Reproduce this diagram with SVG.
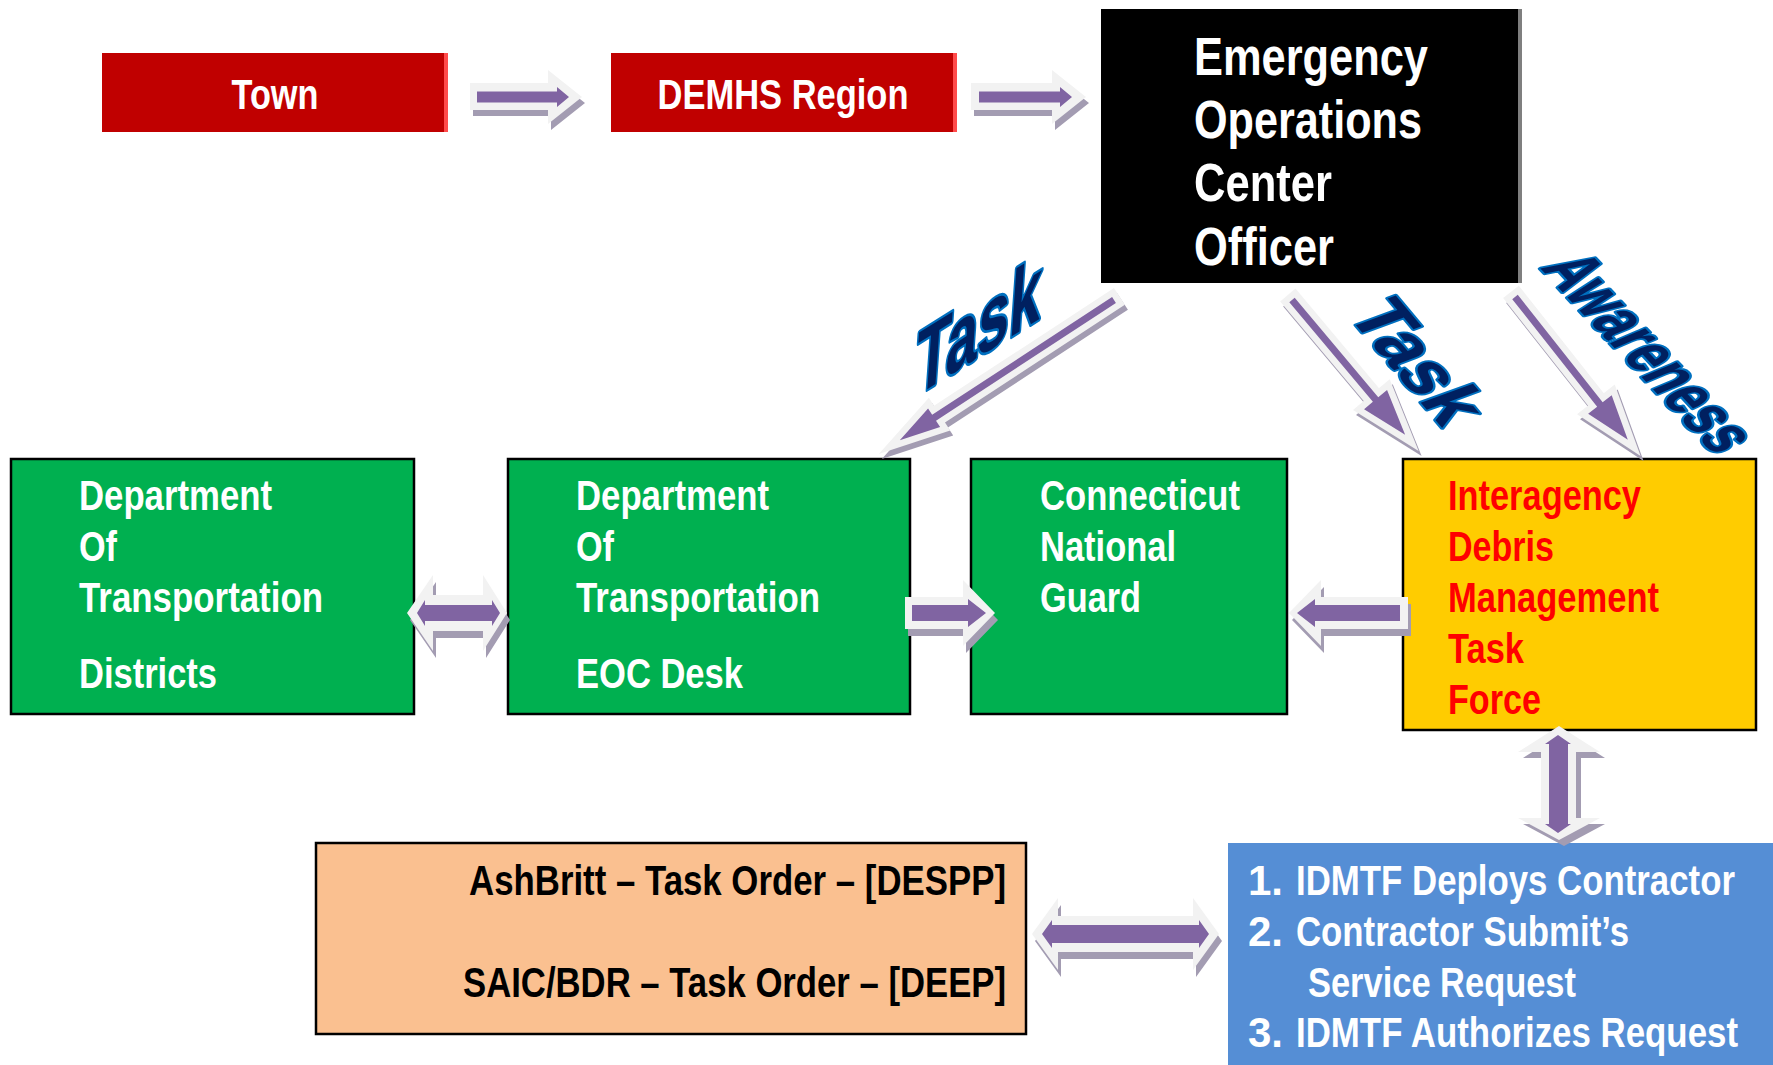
<svg xmlns="http://www.w3.org/2000/svg" width="1773" height="1065" viewBox="0 0 1773 1065">
<defs>
<style>
.t{font-family:"Liberation Sans Narrow","Liberation Sans",Arial,sans-serif;font-weight:bold;}
.w{fill:#fff}
.r{fill:#FF0000}
.k{fill:#000}
.f42{font-size:42px}
.f53{font-size:53px}
.bx{stroke:#000;stroke-width:2.5}
.sh{fill:#A39CB2}
.ol{fill:#F2F2F2}
.in{fill:#8064A2}
.dsh{fill:#A39CB2;stroke:#A39CB2;stroke-width:13;stroke-linejoin:miter;stroke-miterlimit:10}
.dol{fill:#F2F2F2;stroke:#F2F2F2;stroke-width:13;stroke-linejoin:miter;stroke-miterlimit:10}
.lab{font-family:"Liberation Sans",Arial,sans-serif;font-weight:bold;fill:#002060;stroke:#0070C0;stroke-width:3.5;stroke-linejoin:round;paint-order:stroke}
</style>
</defs>
<rect width="1773" height="1065" fill="#fff"/>
<g id="nodes">
<g id="town">
<rect x="102" y="53" width="346" height="79" fill="#C00000"/>
<rect x="444" y="53" width="4" height="79" fill="#FF4B4B"/>
<text class="t w f42" x="275" y="109" text-anchor="middle" textLength="87" lengthAdjust="spacingAndGlyphs">Town</text>
</g>
<g id="demhs">
<rect x="611" y="53" width="346" height="79" fill="#C00000"/>
<rect x="953" y="53" width="4" height="79" fill="#FF4B4B"/>
<text class="t w f42" x="783" y="109" text-anchor="middle" textLength="251" lengthAdjust="spacingAndGlyphs">DEMHS Region</text>
</g>
<g id="eoc">
<rect x="1101" y="9" width="421" height="274" fill="#000"/>
<rect x="1518" y="9" width="4" height="274" fill="#7F7F7F"/>
<text class="t w f53" x="1194" y="75" textLength="234" lengthAdjust="spacingAndGlyphs">Emergency</text>
<text class="t w f53" x="1194" y="138" textLength="228" lengthAdjust="spacingAndGlyphs">Operations</text>
<text class="t w f53" x="1194" y="201" textLength="138" lengthAdjust="spacingAndGlyphs">Center</text>
<text class="t w f53" x="1194" y="265" textLength="140" lengthAdjust="spacingAndGlyphs">Officer</text>
</g>
<g id="dot-districts">
<rect class="bx" x="11" y="459" width="403" height="255" fill="#00B050"/>
<text class="t w f42" x="79" y="510" textLength="193" lengthAdjust="spacingAndGlyphs">Department</text>
<text class="t w f42" x="79" y="561" textLength="38" lengthAdjust="spacingAndGlyphs">Of</text>
<text class="t w f42" x="79" y="612" textLength="244" lengthAdjust="spacingAndGlyphs">Transportation</text>
<text class="t w f42" x="79" y="688" textLength="138" lengthAdjust="spacingAndGlyphs">Districts</text>
</g>
<g id="dot-eoc">
<rect class="bx" x="508" y="459" width="402" height="255" fill="#00B050"/>
<text class="t w f42" x="576" y="510" textLength="193" lengthAdjust="spacingAndGlyphs">Department</text>
<text class="t w f42" x="576" y="561" textLength="38" lengthAdjust="spacingAndGlyphs">Of</text>
<text class="t w f42" x="576" y="612" textLength="244" lengthAdjust="spacingAndGlyphs">Transportation</text>
<text class="t w f42" x="576" y="688" textLength="167" lengthAdjust="spacingAndGlyphs">EOC Desk</text>
</g>
<g id="cng">
<rect class="bx" x="971" y="459" width="316" height="255" fill="#00B050"/>
<text class="t w f42" x="1040" y="510" textLength="200" lengthAdjust="spacingAndGlyphs">Connecticut</text>
<text class="t w f42" x="1040" y="561" textLength="136" lengthAdjust="spacingAndGlyphs">National</text>
<text class="t w f42" x="1040" y="612" textLength="101" lengthAdjust="spacingAndGlyphs">Guard</text>
</g>
<g id="idmtf">
<rect class="bx" x="1403" y="459" width="353" height="271" fill="#FFCC00"/>
<text class="t r f42" x="1448" y="510" textLength="193" lengthAdjust="spacingAndGlyphs">Interagency</text>
<text class="t r f42" x="1448" y="561" textLength="106" lengthAdjust="spacingAndGlyphs">Debris</text>
<text class="t r f42" x="1448" y="612" textLength="211" lengthAdjust="spacingAndGlyphs">Management</text>
<text class="t r f42" x="1448" y="663" textLength="76" lengthAdjust="spacingAndGlyphs">Task</text>
<text class="t r f42" x="1448" y="714" textLength="93" lengthAdjust="spacingAndGlyphs">Force</text>
</g>
<g id="contractors">
<rect class="bx" x="316" y="843" width="710" height="191" fill="#FAC090"/>
<text class="t k f42" x="1006" y="895" text-anchor="end" textLength="537" lengthAdjust="spacingAndGlyphs">AshBritt – Task Order – [DESPP]</text>
<text class="t k f42" x="1006" y="997" text-anchor="end" textLength="543" lengthAdjust="spacingAndGlyphs">SAIC/BDR – Task Order – [DEEP]</text>
</g>
<g id="process">
<rect x="1228" y="843" width="545" height="222" fill="#558ED5"/>
<text class="t w f42" x="1248" y="895">1.</text>
<text class="t w" transform="translate(1296,895) scale(1,1.235)" x="0" y="0" style="font-size:34px" textLength="439" lengthAdjust="spacingAndGlyphs">IDMTF Deploys Contractor</text>
<text class="t w f42" x="1248" y="946">2.</text>
<text class="t w f42" x="1296" y="946" textLength="333" lengthAdjust="spacingAndGlyphs">Contractor Submit’s</text>
<text class="t w f42" x="1308" y="997" textLength="268" lengthAdjust="spacingAndGlyphs">Service Request</text>
<text class="t w f42" x="1248" y="1047">3.</text>
<text class="t w" transform="translate(1296,1047) scale(1,1.235)" x="0" y="0" style="font-size:34px" textLength="442" lengthAdjust="spacingAndGlyphs">IDMTF Authorizes Request</text>
</g>
</g>
<g id="connectors">
<!-- Town -> DEMHS -->
<path class="sh" transform="translate(3,6)" d="M470,83 H548 V70 L582,97 L548,124 V110 H470 Z"/>
<path class="ol" d="M470,83 H548 V70 L582,97 L548,124 V110 H470 Z"/>
<path class="in" d="M477,91.5 H557 V87 L569,97 L557,107 V102.5 H477 Z"/>
<!-- DEMHS -> EOC -->
<path class="sh" transform="translate(3,6)" d="M971,83 H1052 V70 L1086,97 L1052,124 V110 H971 Z"/>
<path class="ol" d="M971,83 H1052 V70 L1086,97 L1052,124 V110 H971 Z"/>
<path class="in" d="M979,91.5 H1060 V87 L1072,97 L1060,107 V102.5 H979 Z"/>
<!-- DOT districts <-> DOT EOC -->
<path class="sh" transform="translate(3,7)" d="M407,613 L433,575 V595 H483 V575 L507,613 L483,651 V631 H433 V651 Z"/>
<path class="ol" d="M407,613 L433,575 V595 H483 V575 L507,613 L483,651 V631 H433 V651 Z"/>
<path class="in" d="M417,613 L425,600 V605 H492 V600 L500,613 L492,626 V621 H425 V626 Z"/>
<!-- DOT EOC -> CNG -->
<path class="sh" transform="translate(3,7)" d="M905,597 H963 V580 L995,613 L963,646 V629 H905 Z"/>
<path class="ol" d="M905,597 H963 V580 L995,613 L963,646 V629 H905 Z"/>
<path class="in" d="M912,605 H968 V599 L986,613 L968,627 V621 H912 Z"/>
<!-- IDMTF -> CNG -->
<path class="sh" transform="translate(3,7)" d="M1408,597 H1321 V580 L1289,613 L1321,646 V629 H1408 Z"/>
<path class="ol" d="M1408,597 H1321 V580 L1289,613 L1321,646 V629 H1408 Z"/>
<path class="in" d="M1400,605 H1315 V599 L1297,613 L1315,627 V621 H1400 Z"/>
<!-- IDMTF <-> process -->
<path class="sh" transform="translate(5,6)" d="M1559,726 L1600,752 H1576 V818 H1600 L1559,840 L1518,818 H1541 V752 H1518 Z"/>
<path class="ol" d="M1559,726 L1600,752 H1576 V818 H1600 L1559,840 L1518,818 H1541 V752 H1518 Z"/>
<path class="in" d="M1558,735 L1571,744 H1568 V824 H1571 L1558,833 L1545,824 H1549 V744 H1545 Z"/>
<!-- contractors <-> process -->
<path class="sh" transform="translate(3,7)" d="M1032,934 L1058,898 V916 H1193 V898 L1219,934 L1193,970 V952 H1058 V970 Z"/>
<path class="ol" d="M1032,934 L1058,898 V916 H1193 V898 L1219,934 L1193,970 V952 H1058 V970 Z"/>
<path class="in" d="M1042,934 L1052,920 V925 H1199 V920 L1209,934 L1199,948 V943 H1052 V948 Z"/>
<!-- EOC -> DOT EOC (Task) -->
<path class="dsh" transform="translate(1117,305) rotate(146.8)" d="M0,-3.5 H215 V-11 L256,0 L215,11 V3.5 H0 Z"/>
<path class="dol" transform="translate(1114,300) rotate(146.8)" d="M0,-3.5 H215 V-11 L256,0 L215,11 V3.5 H0 Z"/>
<path class="in" transform="translate(1114,300) rotate(146.8)" d="M0,-3.5 H215 V-11 L256,0 L215,11 V3.5 H0 Z"/>
<!-- EOC -> IDMTF (Task) -->
<path class="dsh" transform="translate(1295,305) rotate(50)" d="M0,-3.5 H130 V-15 L176,0 L130,15 V3.5 H0 Z"/>
<path class="dol" transform="translate(1292,300) rotate(50)" d="M0,-3.5 H130 V-15 L176,0 L130,15 V3.5 H0 Z"/>
<path class="in" transform="translate(1292,300) rotate(50)" d="M0,-3.5 H130 V-15 L176,0 L130,15 V3.5 H0 Z"/>
<!-- EOC -> IDMTF (Awareness) -->
<path class="dsh" transform="translate(1518,302) rotate(51.7)" d="M0,-3.5 H137 V-15 L182,0 L137,15 V3.5 H0 Z"/>
<path class="dol" transform="translate(1515,297) rotate(51.7)" d="M0,-3.5 H137 V-15 L182,0 L137,15 V3.5 H0 Z"/>
<path class="in" transform="translate(1515,297) rotate(51.7)" d="M0,-3.5 H137 V-15 L182,0 L137,15 V3.5 H0 Z"/>
<!-- connector labels -->
<text class="lab" transform="translate(979,325) rotate(-32) skewX(-36) scale(1,1.226)" x="0" y="22" font-size="62" text-anchor="middle" textLength="148" lengthAdjust="spacingAndGlyphs">Task</text>
<text class="lab" transform="translate(1420,361) rotate(50) skewX(-20) scale(1,1.2)" x="0" y="21.7" font-size="60" text-anchor="middle" textLength="150" lengthAdjust="spacingAndGlyphs">Task</text>
<text class="lab" transform="translate(1651,352) rotate(47) skewX(-20) scale(1,1.36)" x="0" y="17.6" font-size="50" text-anchor="middle" textLength="258" lengthAdjust="spacingAndGlyphs">Awareness</text>
</g>
</svg>
